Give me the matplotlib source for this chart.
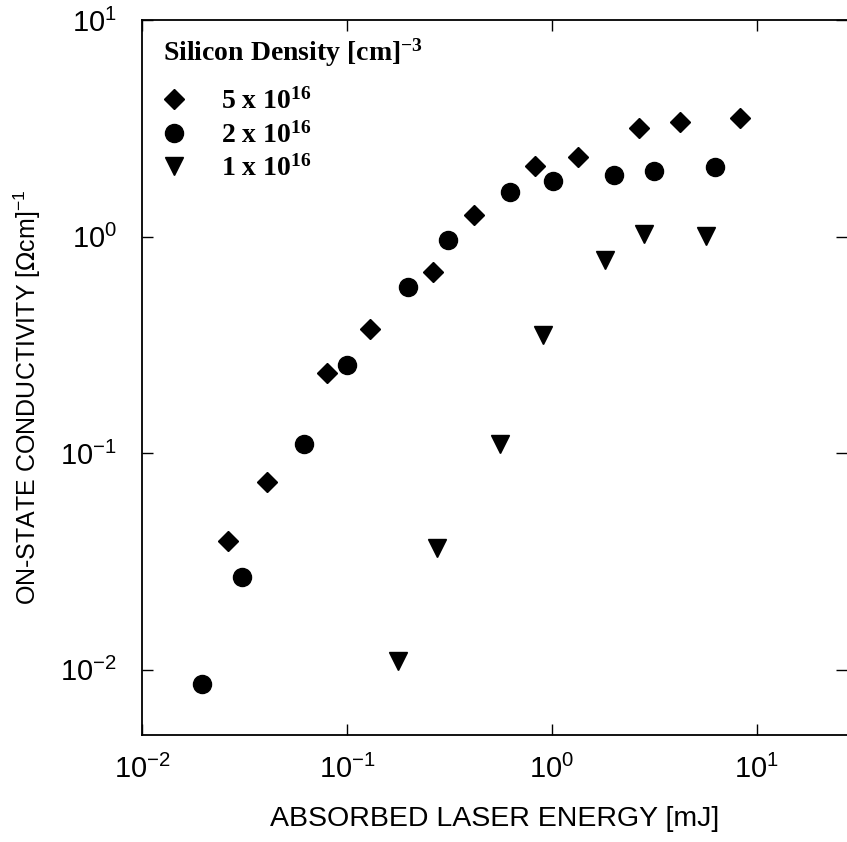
import matplotlib
matplotlib.use('Agg')
import matplotlib.pyplot as plt

# values (log-log)
energy_5e16 = [0.0263, 0.0408, 0.0798, 0.129, 0.263, 0.417, 0.826, 1.34, 2.66, 4.21, 8.26]
cond_5e16 = [0.0394, 0.0738, 0.235, 0.376, 0.689, 1.26, 2.13, 2.34, 3.19, 3.40, 3.55]

energy_2e16 = [0.0196, 0.0308, 0.0617, 0.100, 0.199, 0.311, 0.624, 1.01, 2.00, 3.14, 6.24]
cond_2e16 = [0.0086, 0.0269, 0.111, 0.256, 0.588, 0.97, 1.61, 1.80, 1.93, 2.02, 2.11]

energy_1e16 = [0.178, 0.275, 0.557, 0.904, 1.81, 2.81, 5.64]
cond_1e16 = [0.0110, 0.0366, 0.111, 0.353, 0.783, 1.03, 1.01]

series_labels = [r'5 x 10$\mathdefault{^{16}}$', r'2 x 10$\mathdefault{^{16}}$', r'1 x 10$\mathdefault{^{16}}$']
legend_title = r'Silicon Density [cm]$\mathdefault{^{-3}}$'

sans = ['Liberation Sans', 'DejaVu Sans']
serif = ['Liberation Serif', 'DejaVu Serif']

fig = plt.figure(figsize=(8.47, 8.42), dpi=100)
ax = fig.add_axes([0.1677, 0.127, 0.8323, 0.849])

ax.plot(energy_5e16, cond_5e16, 'D', color='black', ms=10.5, label=series_labels[0])
ax.plot(energy_2e16, cond_2e16, 'o', color='black', ms=13, label=series_labels[1])
ax.plot(energy_1e16, cond_1e16, 'v', color='black', ms=13, label=series_labels[2])

ax.set_xscale('log')
ax.set_yscale('log')
ax.set_xlim(0.01, 27.5)
ax.set_ylim(0.005, 10)

ax.minorticks_off()
ax.tick_params(which='both', direction='in', length=8, width=1,
               top=True, right=True, labelsize=21)
ax.tick_params(axis='x', pad=14)
ax.tick_params(axis='y', pad=18)
for lab in ax.get_xticklabels() + ax.get_yticklabels():
    lab.set_family(sans)

for side in ['left', 'bottom', 'top']:
    ax.spines[side].set_linewidth(1.3)
ax.spines['right'].set_visible(False)

ax.set_xlabel('ABSORBED LASER ENERGY [mJ]', fontsize=20.5, family=sans, labelpad=16)
ax.set_ylabel(r'ON-STATE CONDUCTIVITY [$\Omega$cm]$\mathdefault{^{-1}}$', fontsize=18,
              family=sans)
ax.yaxis.set_label_coords(-0.14, 0.473)

# legend title drawn on its own, entries below it
ax.text(0.03, 0.944, legend_title, transform=ax.transAxes, va='baseline', ha='left',
        family=serif, weight='bold', fontsize=20)
leg = ax.legend(loc='upper left', bbox_to_anchor=(0.0, 0.93), frameon=False,
                prop={'family': serif, 'weight': 'bold', 'size': 20},
                handlelength=1.0, handletextpad=1.2,
                labelspacing=0.25, borderaxespad=0.25, borderpad=0.4)

fig.savefig('out.png', dpi=100)
